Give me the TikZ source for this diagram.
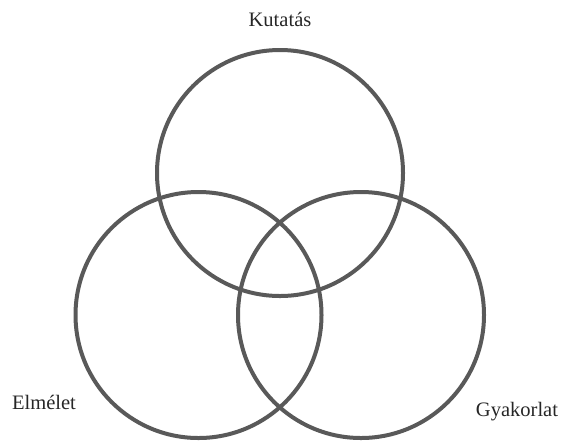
\documentclass[tikz,border=0pt]{standalone}
\usepackage{fontspec}
\setmainfont{Liberation Serif}
\definecolor{ring}{HTML}{595959}
\begin{document}
\begin{tikzpicture}[x=0.75pt,y=-0.75pt,
  ring/.style={draw=ring,line width=3pt},
  lbl/.style={font=\fontsize{15.4}{18}\selectfont,text=black!85,inner sep=0pt}]
\useasboundingbox (0,0) rectangle (563,440);
\node[ring,circle,minimum size=246*0.75pt,inner sep=0pt] (kut) at (280,173) {};
\node[ring,circle,minimum size=246*0.75pt,inner sep=0pt] (elm) at (198.5,315) {};
\node[ring,circle,minimum size=246*0.75pt,inner sep=0pt] (gya) at (361,315) {};
\node[lbl] (lk) at (280,19) {Kutatás};
\node[lbl] (le) at (44,402) {Elmélet};
\node[lbl] (lg) at (517,412) {Gyakorlat};
\end{tikzpicture}
\end{document}
